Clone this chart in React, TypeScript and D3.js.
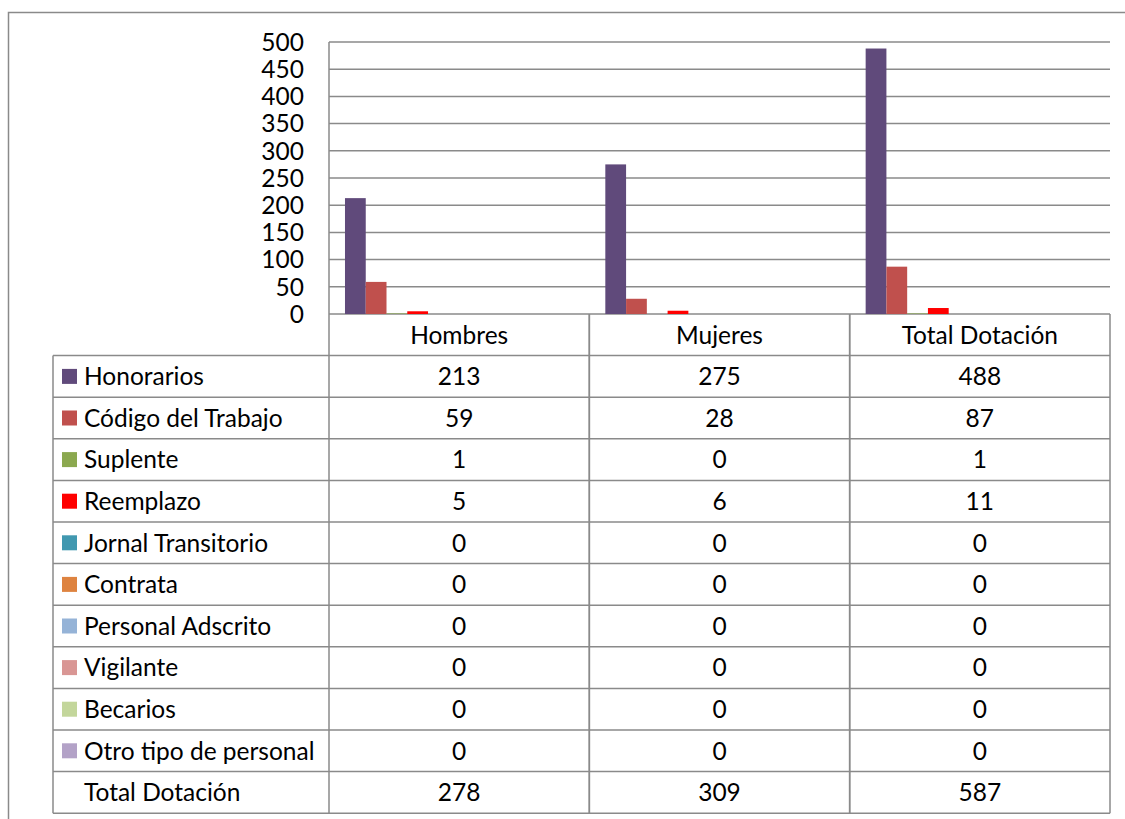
import React from 'react';
import * as d3 from 'd3';

const categories = ['Hombres', 'Mujeres', 'Total Dotación'];

const seriesNames = [
  'Honorarios',
  'Código del Trabajo',
  'Suplente',
  'Reemplazo',
  'Jornal Transitorio',
  'Contrata',
  'Personal Adscrito',
  'Vigilante',
  'Becarios',
  'Otro tipo de personal',
];

const honorarios = [213, 275, 488];
const codigoTrabajo = [59, 28, 87];
const suplente = [1, 0, 1];
const reemplazo = [5, 6, 11];
const jornalTransitorio = [0, 0, 0];
const contrata = [0, 0, 0];
const personalAdscrito = [0, 0, 0];
const vigilante = [0, 0, 0];
const becarios = [0, 0, 0];
const otroTipo = [0, 0, 0];
const totalDotacion = [278, 309, 587];

const seriesValues = [
  honorarios,
  codigoTrabajo,
  suplente,
  reemplazo,
  jornalTransitorio,
  contrata,
  personalAdscrito,
  vigilante,
  becarios,
  otroTipo,
];

const yTicks = [0, 50, 100, 150, 200, 250, 300, 350, 400, 450, 500];

const colors = [
  '#604A7B',
  '#C0504D',
  '#8BA84F',
  '#FF0000',
  '#4198B0',
  '#DE8340',
  '#95B3D7',
  '#D99694',
  '#C3D69B',
  '#B3A2C7',
];

const totalLabel = 'Total Dotación';
const FONT = 'Lato, "Open Sans", sans-serif';
const GRID = '#8a8a8a';

export default function App() {
  const W = 1125;
  const H = 819;
  const plot = { left: 329, right: 1110, top: 42, bottom: 314 };
  const tableLeft = 53;
  const rowH = 41.6;
  const fontSize = 24.5;

  const y = d3.scaleLinear().domain([0, 500]).range([plot.bottom, plot.top]);
  const x0 = d3.scaleBand().domain(categories).range([plot.left, plot.right]).padding(0);
  // the total series takes a slot in each group but has no fill
  const x1 = d3
    .scaleBand()
    .domain([...seriesNames, totalLabel])
    .range([0, x0.bandwidth()])
    .paddingInner(0)
    .paddingOuter(0.77);

  const rows = [
    ...seriesNames.map((name, i) => ({ name, values: seriesValues[i], color: colors[i] })),
    { name: totalLabel, values: totalDotacion, color: null },
  ];
  const rowTop = (i) => plot.bottom + rowH * (i + 1);
  const tableBottom = rowTop(rows.length);

  return (
    <svg width={W} height={H} style={{ position: 'absolute', left: 0, top: 0, background: '#fff' }}>
      {/* outer frame */}
      <path d={`M8.5,${H + 2} V12.5 H${W + 2}`} fill="none" stroke={GRID} strokeWidth={1.5} />

      {/* gridlines */}
      {yTicks.map((t) => (
        <line key={t} x1={plot.left} x2={plot.right} y1={y(t)} y2={y(t)} stroke={GRID} strokeWidth={1.5} />
      ))}
      <line x1={plot.left} x2={plot.left} y1={plot.top} y2={tableBottom} stroke={GRID} strokeWidth={1.5} />

      {/* y labels */}
      {yTicks.map((t) => (
        <text
          key={'l' + t}
          x={304}
          y={y(t)}
          dy="0.36em"
          textAnchor="end"
          fontFamily={FONT}
          fontSize={fontSize}
          fill="#000"
        >
          {t}
        </text>
      ))}

      {/* bars */}
      {seriesNames.map((name, si) =>
        categories.map((cat, ci) => {
          const v = seriesValues[si][ci];
          return (
            <rect
              key={name + cat}
              x={x0(cat) + x1(name)}
              y={y(v)}
              width={x1.bandwidth()}
              height={plot.bottom - y(v)}
              fill={colors[si]}
            />
          );
        })
      )}

      {/* data table */}
      <g stroke={GRID} strokeWidth={1.5}>
        <line x1={tableLeft} x2={plot.right} y1={rowTop(0)} y2={rowTop(0)} />
        {rows.map((r, i) => (
          <line key={'h' + i} x1={tableLeft} x2={plot.right} y1={rowTop(i + 1)} y2={rowTop(i + 1)} />
        ))}
        <line x1={tableLeft} x2={tableLeft} y1={rowTop(0)} y2={tableBottom} />
        {categories.map((c, i) => {
          const xx = x0(c) + x0.bandwidth();
          return <line key={'v' + i} x1={xx} x2={xx} y1={plot.bottom} y2={tableBottom} />;
        })}
        {categories.slice(1).map((c, i) => (
          <line key={'vv' + i} x1={x0(c)} x2={x0(c)} y1={plot.bottom} y2={tableBottom} />
        ))}
      </g>

      {categories.map((c) => (
        <text
          key={'c' + c}
          x={x0(c) + x0.bandwidth() / 2}
          y={(plot.bottom + rowTop(0)) / 2}
          dy="0.36em"
          textAnchor="middle"
          fontFamily={FONT}
          fontSize={fontSize}
          fill="#000"
        >
          {c}
        </text>
      ))}

      {rows.map((r, i) => {
        const cy = rowTop(i) + rowH / 2;
        return (
          <g key={'r' + i}>
            {r.color && <rect x={62} y={cy - 7.5} width={15} height={15} fill={r.color} />}
            <text x={84} y={cy} dy="0.36em" fontFamily={FONT} fontSize={fontSize} fill="#000">
              {r.name}
            </text>
            {categories.map((c, ci) => (
              <text
                key={c}
                x={x0(c) + x0.bandwidth() / 2}
                y={cy}
                dy="0.36em"
                textAnchor="middle"
                fontFamily={FONT}
                fontSize={fontSize}
                fill="#000"
              >
                {r.values[ci]}
              </text>
            ))}
          </g>
        );
      })}
    </svg>
  );
}
